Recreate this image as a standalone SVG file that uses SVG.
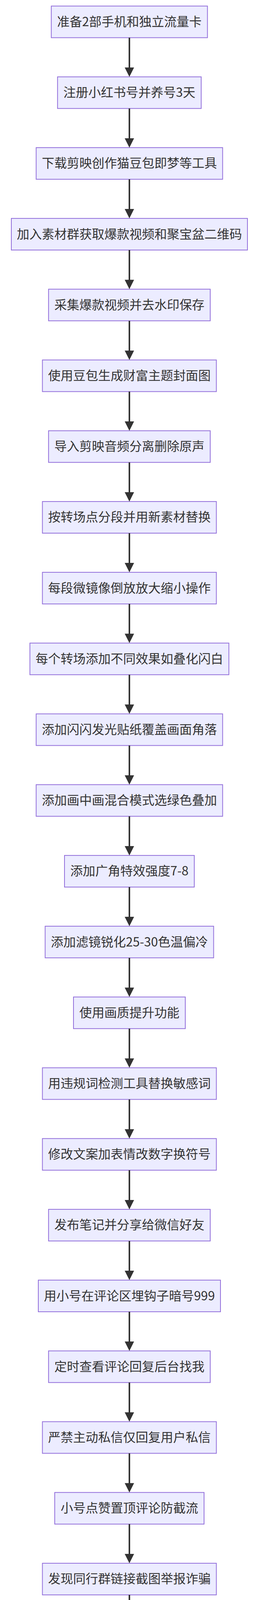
<svg xmlns="http://www.w3.org/2000/svg" width="660" height="5732" viewBox="0 0 660 5732">
<style>
.n rect{fill:#ECECFF;stroke:#9370DB;stroke-width:2}
.n text{font-family:"Noto Sans CJK SC","Noto Sans",sans-serif;font-size:32px;fill:#333;text-anchor:middle}
.e line{stroke:#333;stroke-width:4}
.e polygon{fill:#333}
</style>
<g id="nodes">
<g class="n" id="n1"><rect x="131.2" y="15.5" width="399.5" height="81"/><text x="331" y="67">准备2部手机和独立流量卡</text></g>
<g class="n" id="n2"><rect x="147.2" y="196.7" width="367.5" height="81"/><text x="331" y="248.2">注册小红书号并养号3天</text></g>
<g class="n" id="n3"><rect x="92.5" y="377.9" width="477" height="81"/><text x="331" y="429.4">下载剪映创作猫豆包即梦等工具</text></g>
<g class="n" id="n4"><rect x="29" y="559.1" width="604" height="81"/><text x="331" y="610.6">加入素材群获取爆款视频和聚宝盆二维码</text></g>
<g class="n" id="n5"><rect x="124.2" y="740.3" width="413.6" height="81"/><text x="331" y="791.8">采集爆款视频并去水印保存</text></g>
<g class="n" id="n6"><rect x="108.5" y="921.5" width="445" height="81"/><text x="331" y="973">使用豆包生成财富主题封面图</text></g>
<g class="n" id="n7"><rect x="124.2" y="1102.7" width="413.6" height="81"/><text x="331" y="1154.2">导入剪映音频分离删除原声</text></g>
<g class="n" id="n8"><rect x="108.5" y="1283.9" width="445" height="81"/><text x="331" y="1335.4">按转场点分段并用新素材替换</text></g>
<g class="n" id="n9"><rect x="108.5" y="1465.1" width="445" height="81"/><text x="331" y="1516.6">每段微镜像倒放放大缩小操作</text></g>
<g class="n" id="n10"><rect x="76.5" y="1646.3" width="509" height="81"/><text x="331" y="1697.8">每个转场添加不同效果如叠化闪白</text></g>
<g class="n" id="n11"><rect x="92.5" y="1827.5" width="477" height="81"/><text x="331" y="1879">添加闪闪发光贴纸覆盖画面角落</text></g>
<g class="n" id="n12"><rect x="92.5" y="2008.7" width="477" height="81"/><text x="331" y="2060.2">添加画中画混合模式选绿色叠加</text></g>
<g class="n" id="n13"><rect x="165" y="2189.9" width="332" height="81"/><text x="331" y="2241.4">添加广角特效强度7-8</text></g>
<g class="n" id="n14"><rect x="115.5" y="2371.1" width="431" height="81"/><text x="331" y="2422.6">添加滤镜锐化25-30色温偏冷</text></g>
<g class="n" id="n15"><rect x="188" y="2552.3" width="286" height="81"/><text x="331" y="2603.8">使用画质提升功能</text></g>
<g class="n" id="n16"><rect x="108.5" y="2733.5" width="445" height="81"/><text x="331" y="2785">用违规词检测工具替换敏感词</text></g>
<g class="n" id="n17"><rect x="108.5" y="2914.7" width="445" height="81"/><text x="331" y="2966.2">修改文案加表情改数字换符号</text></g>
<g class="n" id="n18"><rect x="124.2" y="3095.9" width="413.6" height="81"/><text x="331" y="3147.4">发布笔记并分享给微信好友</text></g>
<g class="n" id="n19"><rect x="98" y="3277.1" width="466" height="81"/><text x="331" y="3328.6">用小号在评论区埋钩子暗号999</text></g>
<g class="n" id="n20"><rect x="124.2" y="3458.3" width="413.6" height="81"/><text x="331" y="3509.8">定时查看评论回复后台找我</text></g>
<g class="n" id="n21"><rect x="108.5" y="3639.5" width="445" height="81"/><text x="331" y="3691">严禁主动私信仅回复用户私信</text></g>
<g class="n" id="n22"><rect x="140" y="3820.7" width="382" height="81"/><text x="331" y="3872.2">小号点赞置顶评论防截流</text></g>
<g class="n" id="n23"><rect x="108.5" y="4001.9" width="445" height="81"/><text x="331" y="4053.4">发现同行群链接截图举报诈骗</text></g>
<g class="n" id="n24"><rect x="75" y="4183.1" width="512" height="81"/><text x="331" y="4234.6">笔记1小时无流量重新编辑最多3次</text></g>
<g class="n" id="n25"><rect x="67.7" y="4364.3" width="526.5" height="81"/><text x="331" y="4415.8">编辑3次仍无流量隐藏笔记隔天重发</text></g>
<g class="n" id="n26"><rect x="83.7" y="4545.5" width="494.5" height="81"/><text x="331" y="4597">引流到微信朋友圈包装3天可见</text></g>
<g class="n" id="n27"><rect x="140" y="4726.7" width="382" height="81"/><text x="331" y="4778.2">早上发正能量语录立人设</text></g>
<g class="n" id="n28"><rect x="105.2" y="4907.9" width="451.5" height="81"/><text x="331" y="4959.4">中午发学员收益图800-2000元</text></g>
<g class="n" id="n29"><rect x="124.2" y="5089.1" width="413.6" height="81"/><text x="331" y="5140.6">晚上8-10点密集发成交截图</text></g>
<g class="n" id="n30"><rect x="98" y="5270.3" width="466" height="81"/><text x="331" y="5321.8">成交话术核心卖点998元课程费</text></g>
<g class="n" id="n31"><rect x="80.5" y="5451.5" width="501" height="81"/><text x="331" y="5503">裂变直推10人晋升核心躺赚110元</text></g>
<g class="n" id="n32"><rect x="18" y="5632.7" width="626" height="81"/><text x="331" y="5684.2">直推15人且两个核心晋升团队长躺赚270元</text></g>
</g>
<g id="connectors" class="e">
<line x1="331" y1="96.5" x2="331" y2="173"/><polygon points="319,172.7 343,172.7 331,196.7"/>
<line x1="331" y1="277.7" x2="331" y2="354"/><polygon points="319,353.9 343,353.9 331,377.9"/>
<line x1="331" y1="458.9" x2="331" y2="535"/><polygon points="319,535.1 343,535.1 331,559.1"/>
<line x1="331" y1="640.1" x2="331" y2="717"/><polygon points="319,716.3 343,716.3 331,740.3"/>
<line x1="331" y1="821.3" x2="331" y2="898"/><polygon points="319,897.5 343,897.5 331,921.5"/>
<line x1="331" y1="1002.5" x2="331" y2="1079"/><polygon points="319,1078.7 343,1078.7 331,1102.7"/>
<line x1="331" y1="1183.7" x2="331" y2="1260"/><polygon points="319,1259.9 343,1259.9 331,1283.9"/>
<line x1="331" y1="1364.9" x2="331" y2="1441"/><polygon points="319,1441.1 343,1441.1 331,1465.1"/>
<line x1="331" y1="1546.1" x2="331" y2="1623"/><polygon points="319,1622.3 343,1622.3 331,1646.3"/>
<line x1="331" y1="1727.3" x2="331" y2="1804"/><polygon points="319,1803.5 343,1803.5 331,1827.5"/>
<line x1="331" y1="1908.5" x2="331" y2="1985"/><polygon points="319,1984.7 343,1984.7 331,2008.7"/>
<line x1="331" y1="2089.7" x2="331" y2="2166"/><polygon points="319,2165.9 343,2165.9 331,2189.9"/>
<line x1="331" y1="2270.9" x2="331" y2="2347"/><polygon points="319,2347.1 343,2347.1 331,2371.1"/>
<line x1="331" y1="2452.1" x2="331" y2="2529"/><polygon points="319,2528.3 343,2528.3 331,2552.3"/>
<line x1="331" y1="2633.3" x2="331" y2="2710"/><polygon points="319,2709.5 343,2709.5 331,2733.5"/>
<line x1="331" y1="2814.5" x2="331" y2="2891"/><polygon points="319,2890.7 343,2890.7 331,2914.7"/>
<line x1="331" y1="2995.7" x2="331" y2="3072"/><polygon points="319,3071.9 343,3071.9 331,3095.9"/>
<line x1="331" y1="3176.9" x2="331" y2="3253"/><polygon points="319,3253.1 343,3253.1 331,3277.1"/>
<line x1="331" y1="3358.1" x2="331" y2="3435"/><polygon points="319,3434.3 343,3434.3 331,3458.3"/>
<line x1="331" y1="3539.3" x2="331" y2="3616"/><polygon points="319,3615.5 343,3615.5 331,3639.5"/>
<line x1="331" y1="3720.5" x2="331" y2="3797"/><polygon points="319,3796.7 343,3796.7 331,3820.7"/>
<line x1="331" y1="3901.7" x2="331" y2="3978"/><polygon points="319,3977.9 343,3977.9 331,4001.9"/>
<line x1="331" y1="4082.9" x2="331" y2="4159"/><polygon points="319,4159.1 343,4159.1 331,4183.1"/>
<line x1="331" y1="4264.1" x2="331" y2="4341"/><polygon points="319,4340.3 343,4340.3 331,4364.3"/>
<line x1="331" y1="4445.3" x2="331" y2="4522"/><polygon points="319,4521.5 343,4521.5 331,4545.5"/>
<line x1="331" y1="4626.5" x2="331" y2="4703"/><polygon points="319,4702.7 343,4702.7 331,4726.7"/>
<line x1="331" y1="4807.7" x2="331" y2="4884"/><polygon points="319,4883.9 343,4883.9 331,4907.9"/>
<line x1="331" y1="4988.9" x2="331" y2="5065"/><polygon points="319,5065.1 343,5065.1 331,5089.1"/>
<line x1="331" y1="5170.1" x2="331" y2="5247"/><polygon points="319,5246.3 343,5246.3 331,5270.3"/>
<line x1="331" y1="5351.3" x2="331" y2="5428"/><polygon points="319,5427.5 343,5427.5 331,5451.5"/>
<line x1="331" y1="5532.5" x2="331" y2="5609"/><polygon points="319,5608.7 343,5608.7 331,5632.7"/>
</g>
</svg>
